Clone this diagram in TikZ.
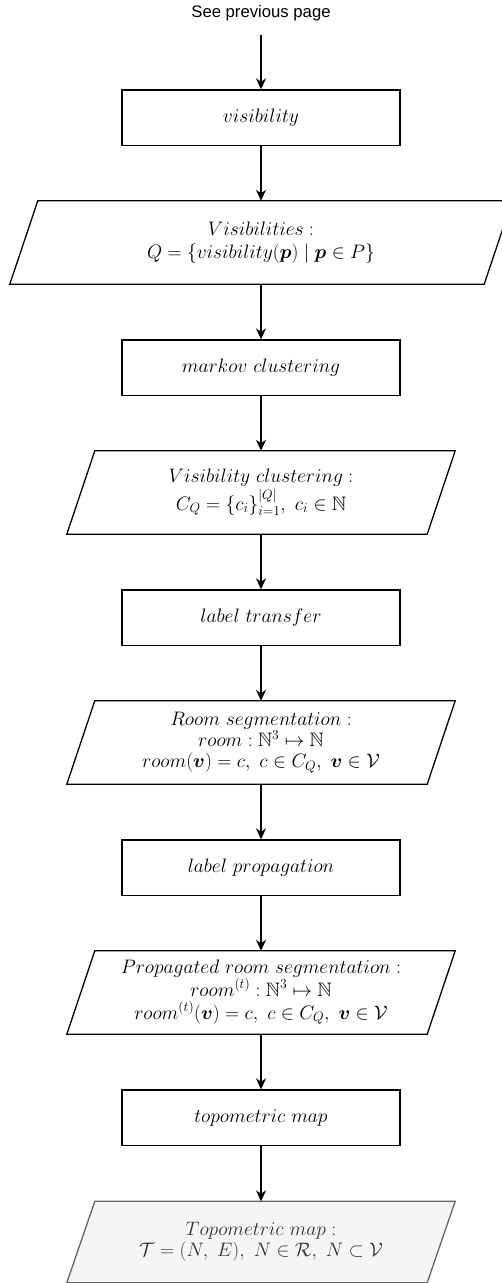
\RequirePackage{fix-cm}
\documentclass[tikz,border=0pt]{standalone}
\usepackage{amsmath,amssymb,bm}
\usepackage{fontspec}
\newfontfamily\notefont{Liberation Sans}
\usetikzlibrary{arrows.meta,backgrounds}

\definecolor{outfill}{HTML}{F5F5F5}
\definecolor{outline}{HTML}{666666}
\definecolor{outtext}{HTML}{333333}

\tikzset{
  flow/.style={line width=1.3pt, -{Stealth[length=11pt,width=10pt,inset=3.5pt]}},
  mathfont/.style={font=\fontsize{19.5}{21}\selectfont},
  stepbox/.style={draw, line width=1.3pt, mathfont, minimum width=278pt,
    minimum height=55.5pt, inner sep=0pt},
  databox/.style={mathfont, align=center, minimum width=360pt,
    minimum height=83pt, inner sep=0pt},
  parashape/.style={line width=1.3pt, line join=miter},
}

% outline of a parallelogram around a named node, top edge shifted right
\newcommand\paraoutline[2][]{%
  \draw[parashape,#1] ([xshift=14pt]#2.north west) -- ([xshift=14pt]#2.north east)
    -- ([xshift=-14pt]#2.south east) -- ([xshift=-14pt]#2.south west) -- cycle;}

\begin{document}
\begin{tikzpicture}[x=1pt,y=-1pt]
  \useasboundingbox (0,0) rectangle (502,1283);

  \node[font=\notefont\fontsize{16.7}{20}\selectfont, inner sep=0pt] (prev) at (261,13.5) {See previous page};

  \node[stepbox] (b1) at (261,117.75) {$visibility$};
  \node[databox, minimum width=474pt] (p1) at (261,242.5)
    {$Visibilities:$\\[2pt] $Q = \{visibility(\bm{p}) \mid \bm{p} \in P\}$};

  \node[stepbox] (b2) at (261,367.75) {$markov\ clustering$};
  \node[databox] (p2) at (261,492.5)
    {$Visibility\ clustering:$\\[2pt] $C_Q = \{c_i\}_{i=1}^{|Q|},\ c_i \in \mathbb{N}$};

  \node[stepbox] (b3) at (261,617.75) {$label\ transfer$};
  \node[databox] (p3) at (261,742.5)
    {$Room\ segmentation:$\\ $room:\mathbb{N}^3 \mapsto \mathbb{N}$\\
     $room(\bm{v}) = c,\ c \in C_Q,\ \bm{v} \in \mathcal{V}$};

  \node[stepbox] (b4) at (261,867.75) {$label\ propagation$};
  \node[databox] (p4) at (261,992.5)
    {$Propagated\ room\ segmentation:$\\ $room^{(t)}:\mathbb{N}^3 \mapsto \mathbb{N}$\\[2pt]
     $room^{(t)}(\bm{v}) = c,\ c \in C_Q,\ \bm{v} \in \mathcal{V}$};

  \node[stepbox] (b5) at (261,1117.75) {$topometric\ map$};
  \node[databox, minimum height=81pt, text=outtext] (p5) at (261,1242)
    {$Topometric\ map:$\\ $\mathcal{T} = (N,\ E),\ N \in \mathcal{R},\ N \subset \mathcal{V}$};

  \begin{pgfonlayer}{background}
    \paraoutline{p1}
    \paraoutline{p2}
    \paraoutline{p3}
    \paraoutline{p4}
    \paraoutline[draw=outline, fill=outfill]{p5}
  \end{pgfonlayer}

  \draw[flow, shorten <=13.5pt] (prev.south) -- (b1.north);
  \draw[flow] (b1) -- (p1);
  \draw[flow] (p1) -- (b2);
  \draw[flow] (b2) -- (p2);
  \draw[flow] (p2) -- (b3);
  \draw[flow] (b3) -- (p3);
  \draw[flow] (p3) -- (b4);
  \draw[flow] (b4) -- (p4);
  \draw[flow] (p4) -- (b5);
  \draw[flow] (b5) -- (p5);
\end{tikzpicture}
\end{document}
